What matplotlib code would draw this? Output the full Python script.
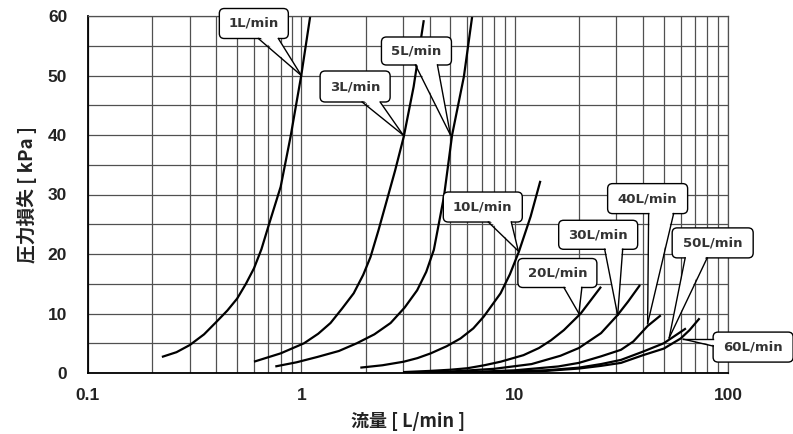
import numpy as np
import matplotlib
matplotlib.use("Agg")
import matplotlib.pyplot as plt
from matplotlib.patches import FancyBboxPatch, Polygon
from matplotlib.lines import Line2D
from matplotlib.ticker import LogLocator, FixedLocator, NullFormatter

# flow [L/min] vs pressure loss [kPa]
flow_1 = [0.222, 0.26, 0.30, 0.35, 0.40, 0.45, 0.50, 0.55, 0.60, 0.65, 0.70, 0.80, 0.89, 1.0, 1.10]
loss_1 = [2.7, 3.5, 4.7, 6.5, 8.6, 10.5, 12.5, 15.0, 17.6, 20.8, 24.6, 31.3, 39.7, 50.1, 59.9]

flow_3 = [0.60, 0.80, 1.03, 1.20, 1.37, 1.55, 1.76, 1.95, 2.11, 2.30, 2.52, 2.75, 3.02, 3.36, 3.75]
loss_3 = [1.9, 3.3, 5.0, 6.6, 8.4, 10.8, 13.4, 16.5, 19.5, 24.0, 29.1, 34.0, 39.7, 48.1, 59.3]

flow_5 = [0.755, 0.95, 1.19, 1.50, 1.82, 2.20, 2.62, 3.05, 3.49, 3.85, 4.18, 4.66, 5.09, 5.78, 6.32]
loss_5 = [1.1, 1.8, 2.7, 3.7, 5.0, 6.5, 8.4, 11.0, 13.9, 17.0, 20.7, 29.6, 40.0, 49.8, 59.9]

flow_10 = [1.89, 2.40, 3.02, 3.50, 4.04, 4.80, 5.57, 6.40, 7.17, 8.59, 9.50, 10.47, 11.88, 13.2]
loss_10 = [0.9, 1.3, 1.9, 2.5, 3.3, 4.5, 5.8, 7.5, 9.5, 13.4, 16.6, 20.4, 26.3, 32.3]

flow_20 = [3.0, 4.0, 5.0, 6.0, 7.2, 8.6, 11.0, 13.0, 14.8, 17.0, 20.4, 25.4]
loss_20 = [0.15, 0.35, 0.55, 0.8, 1.3, 1.9, 3.0, 4.2, 5.5, 7.2, 10.0, 14.5]

flow_30 = [3.0, 5.0, 8.0, 12.0, 16.4, 20.0, 25.4, 30.3, 34.0, 38.7]
loss_30 = [0.05, 0.25, 0.7, 1.5, 2.9, 4.2, 6.7, 9.7, 12.0, 14.8]

flow_40 = [3.5, 6.0, 10.0, 16.0, 20.0, 25.4, 31.5, 36.0, 42.0, 48.4]
loss_40 = [0.05, 0.15, 0.45, 1.1, 1.7, 2.8, 3.9, 5.3, 7.9, 9.7]

flow_50 = [4.0, 8.0, 14.0, 20.0, 25.4, 31.5, 40.0, 50.0, 60.0, 63.5]
loss_50 = [0.03, 0.15, 0.45, 0.9, 1.5, 2.2, 3.6, 5.0, 6.9, 7.5]

flow_60 = [4.0, 8.0, 14.0, 20.0, 25.4, 31.5, 40.0, 50.0, 60.0, 66.0, 73.6]
loss_60 = [0.02, 0.1, 0.35, 0.75, 1.2, 1.7, 3.0, 4.1, 5.8, 7.2, 9.2]

curves = [(flow_1, loss_1), (flow_3, loss_3), (flow_5, loss_5), (flow_10, loss_10),
          (flow_20, loss_20), (flow_30, loss_30), (flow_40, loss_40),
          (flow_50, loss_50), (flow_60, loss_60)]

# callout labels and the curve point each one points at
labels = ["1L/min", "3L/min", "5L/min", "10L/min", "20L/min",
          "30L/min", "40L/min", "50L/min", "60L/min"]
label_x = [1.0, 3.0, 5.0, 10.4, 20.0, 30.4, 42.0, 53.0, 61.6]
label_y = [50.0, 40.0, 40.0, 20.5, 10.0, 9.7, 8.3, 5.9, 5.7]

# callout layout in pixels: box centre offset from tip (dx, dy up), box w, h,
# tail base along bottom edge (or left edge for "L") relative to box centre
callout = [
    (-47.5, 52, 69, 30, "B", 4.5, 24.5),
    (-48, 48.5, 70, 31, "B", 7, 25),
    (-34, 84, 70, 28, "B", -1, 21),
    (-35.5, 44, 79, 30, "B", 5.5, 28.5),
    (-21.5, 40.5, 79, 29, "B", 6.5, 24.5),
    (-19.5, 80.5, 79, 29, "B", 6.5, 24.5),
    (0, 125, 80, 30, "B", 1, 26),
    (43.5, 95, 81, 30, "B", -27.5, -5.5),
    (70, -8, 80, 30, "L", 1, 8),
]

fig = plt.figure(figsize=(7.93, 4.34), dpi=100)
ax = fig.add_axes([88/793, 1-373/434, 640/793, 357/434])

for fx, ly in curves:
    ax.plot(fx, ly, color="black", lw=1.6, solid_capstyle="butt")

ax.set_xscale("log")
ax.set_xlim(0.1, 100)
ax.set_ylim(0, 60)

# grid
ax.xaxis.set_major_locator(LogLocator(base=10, numticks=10))
ax.xaxis.set_minor_locator(LogLocator(base=10, subs=np.arange(2, 10), numticks=10))
ax.xaxis.set_minor_formatter(NullFormatter())
ax.set_yticks(np.arange(0, 61, 10))
ax.yaxis.set_minor_locator(FixedLocator(np.arange(5, 60, 10)))
ax.grid(True, which="both", color="#505050", lw=0.9)
ax.set_axisbelow(True)
ax.set_xticks([0.1, 1, 10, 100])
ax.set_xticklabels(["0.1", "1", "10", "100"])
ax.tick_params(which="both", length=0)
ax.tick_params(axis="y", pad=15)
ax.tick_params(axis="x", pad=11)
for t in ax.get_xticklabels() + ax.get_yticklabels():
    t.set_fontfamily("Liberation Sans")
    t.set_fontweight("bold")
    t.set_fontsize(12.5)
    t.set_color("#222222")

for side in ["top", "right"]:
    ax.spines[side].set_color("#505050")
    ax.spines[side].set_linewidth(0.9)
for side in ["left", "bottom"]:
    ax.spines[side].set_color("black")
    ax.spines[side].set_linewidth(1.3)

jp = ["Noto Sans CJK JP", "DejaVu Sans"]
ax.set_xlabel("流量 [ L/min ]", family=jp, fontweight="bold", fontsize=13, labelpad=6, color="#222222")
ax.set_ylabel("圧力損失 [ kPa ]", family=jp, fontweight="bold", fontsize=13.5, labelpad=8, color="#222222")

# draw the callouts in pixel space
for txt, lx, ly, (dx, dy, w, h, edge, b0, b1) in zip(labels, label_x, label_y, callout):
    tx, ty = ax.transData.transform((lx, ly))
    cx, cy = tx + dx, ty + dy
    box = FancyBboxPatch((cx - w/2 + 4, cy - h/2 + 4), w - 8, h - 8,
                         boxstyle="round,pad=4,rounding_size=5", transform=None,
                         fc="white", ec="black", lw=1.0, zorder=5, clip_on=False)
    fig.patches.append(box)
    if edge == "B":
        p0 = (cx + b0, cy - h/2)
        p1 = (cx + b1, cy - h/2)
        inner = [(cx + b0 + 0.8, cy - h/2 + 2), (cx + b1 - 0.8, cy - h/2 + 2)]
    else:
        p0 = (cx - w/2, cy + b0)
        p1 = (cx - w/2, cy + b1)
        inner = [(cx - w/2 + 2, cy + b1 - 0.8), (cx - w/2 + 2, cy + b0 + 0.8)]
    tail = Polygon([inner[0], (tx, ty), inner[1]], closed=True, transform=None,
                   fc="white", ec="none", zorder=6, clip_on=False)
    fig.patches.append(tail)
    for p in (p0, p1):
        fig.lines.append(Line2D([p[0], tx], [p[1], ty], transform=None, color="black",
                                lw=1.0, zorder=7, clip_on=False))
    fig.text(cx / fig.dpi / fig.get_figwidth(), cy / fig.dpi / fig.get_figheight(), txt,
             ha="center", va="center", fontsize=9.5, fontweight="bold",
             family="DejaVu Sans", color="#333333", zorder=8)

fig.savefig("out.png", dpi=100)
